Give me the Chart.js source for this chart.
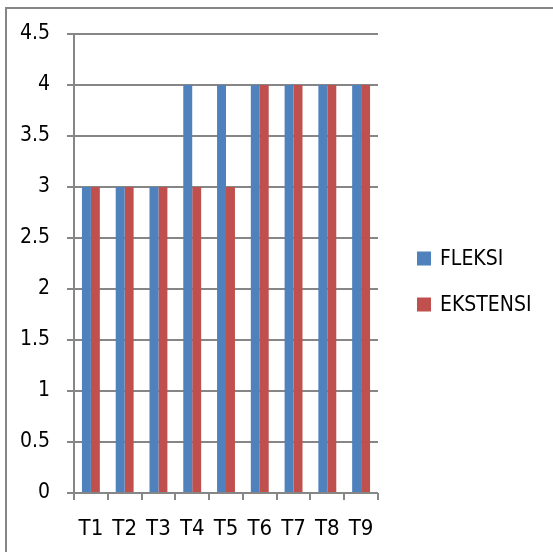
<!DOCTYPE html>
<html>
<head>
<meta charset="utf-8">
<script src="https://cdn.jsdelivr.net/npm/chart.js@4/dist/chart.umd.min.js"></script>
<style>
  html, body { margin: 0; padding: 0; background: #fff; }
  canvas { display: block; }
</style>
</head>
<body>
<canvas id="c" width="553" height="552"></canvas>
<script>
// Categories and series
const categories = ['T1', 'T2', 'T3', 'T4', 'T5', 'T6', 'T7', 'T8', 'T9'];
const fleksi = [3, 3, 3, 4, 4, 4, 4, 4, 4];
const ekstensi = [3, 3, 3, 3, 3, 4, 4, 4, 4];
const seriesNames = ['FLEKSI', 'EKSTENSI'];
const seriesColors = ['#4F81BD', '#C0504D'];

const FONT = '"DejaVu Sans Condensed", "Liberation Sans", Arial, sans-serif';
const GRID = '#868686';

// Frame lines along the top and left edges, plus the legend at the right
const framePlugin = {
  id: 'frame',
  afterDraw(chart) {
    const ctx = chart.ctx;
    ctx.save();
    ctx.strokeStyle = GRID;
    ctx.lineWidth = 2;
    ctx.beginPath();
    ctx.moveTo(6, 553);
    ctx.lineTo(6, 8);
    ctx.lineTo(553, 8);
    ctx.stroke();

    // legend
    const items = chart.data.datasets;
    ctx.font = '21px ' + FONT;
    ctx.textBaseline = 'middle';
    ctx.textAlign = 'left';
    items.forEach((ds, i) => {
      const cy = 258.5 + i * 46;
      ctx.fillStyle = ds.backgroundColor;
      ctx.fillRect(417, cy - 7, 14, 14);
      ctx.fillStyle = '#000';
      ctx.fillText(ds.label, 440, cy + 1);
    });
    ctx.restore();
  }
};

new Chart(document.getElementById('c'), {
  type: 'bar',
  data: {
    labels: categories,
    datasets: [
      { label: seriesNames[0], data: fleksi, backgroundColor: seriesColors[0] },
      { label: seriesNames[1], data: ekstensi, backgroundColor: seriesColors[1] }
    ]
  },
  options: {
    responsive: false,
    animation: false,
    devicePixelRatio: 1,
    layout: { padding: { left: 0, top: 34, right: 175, bottom: 0 } },
    datasets: { bar: { categoryPercentage: 0.53, barPercentage: 1.0, borderWidth: 0 } },
    plugins: { legend: { display: false }, tooltip: { enabled: false } },
    scales: {
      x: {
        offset: true,
        grid: { offset: true, drawOnChartArea: false, drawTicks: true, tickLength: 7, color: GRID, lineWidth: 2 },
        border: { display: false },
        ticks: { color: '#000', font: { family: FONT, size: 22 }, padding: 16, maxRotation: 0 },
        afterFit(s) { s.height = 59; }
      },
      y: {
        min: 0, max: 4.5,
        ticks: {
          stepSize: 0.5, color: '#000', font: { family: FONT, size: 21 }, padding: 17,
          callback: (v) => String(v)
        },
        grid: { color: GRID, lineWidth: 2, tickLength: 7 },
        border: { display: true, color: GRID, width: 2 },
        afterFit(s) { s.width = 74; }
      }
    }
  },
  plugins: [framePlugin]
});
</script>
</body>
</html>
